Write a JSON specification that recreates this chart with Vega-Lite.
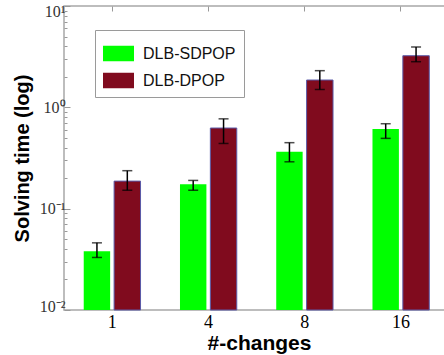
{
  "$schema": "https://vega.github.io/schema/vega-lite/v6.json",
  "autosize": {"type": "none"},
  "padding": {"left": 64, "top": 6, "right": 0, "bottom": 45},
  "width": 385,
  "height": 304,
  "background": "white",
  "config": {
    "view": {"stroke": "#a8a8a8", "strokeWidth": 1.5},
    "axis": {"domain": false, "grid": false}
  },
  "data": {
    "values": [
      {"changes": 1, "method": "DLB-SDPOP", "time": 0.038, "lo": 0.033, "hi": 0.046},
      {"changes": 1, "method": "DLB-DPOP", "time": 0.187, "lo": 0.152, "hi": 0.237},
      {"changes": 4, "method": "DLB-SDPOP", "time": 0.174, "lo": 0.152, "hi": 0.19},
      {"changes": 4, "method": "DLB-DPOP", "time": 0.625, "lo": 0.44, "hi": 0.77},
      {"changes": 8, "method": "DLB-SDPOP", "time": 0.365, "lo": 0.29, "hi": 0.448},
      {"changes": 8, "method": "DLB-DPOP", "time": 1.86, "lo": 1.5, "hi": 2.3},
      {"changes": 16, "method": "DLB-SDPOP", "time": 0.611, "lo": 0.494, "hi": 0.689},
      {"changes": 16, "method": "DLB-DPOP", "time": 3.23, "lo": 2.82, "hi": 3.94}
    ]
  },
  "resolve": {"axis": {"x": "independent"}},
  "layer": [
    {
      "mark": {"type": "bar", "strokeWidth": 1},
      "encoding": {
        "x": {
          "field": "changes", "type": "ordinal",
          "scale": {"paddingInner": 0.41, "paddingOuter": 0.205},
          "axis": {
            "orient": "bottom", "ticks": false, "labelAngle": 0,
            "labelFont": "Liberation Serif", "labelFontSize": 18, "labelColor": "#000",
            "labelBaseline": "middle", "labelPadding": 12,
            "title": "#-changes", "titleFont": "Liberation Sans", "titleFontSize": 21,
            "titleFontWeight": "bold", "titleColor": "#000",
            "titleX": 195, "titleY": 33, "titleBaseline": "middle", "titleAlign": "center"
          }
        },
        "xOffset": {
          "field": "method", "type": "nominal",
          "sort": ["DLB-SDPOP", "DLB-DPOP"],
          "scale": {"paddingInner": 0.13, "paddingOuter": 0}
        },
        "y": {
          "field": "time", "type": "quantitative", "stack": null,
          "scale": {"type": "log", "domain": [0.01, 10], "nice": false},
          "axis": {
            "values": [0.01, 0.02, 0.03, 0.04, 0.05, 0.06, 0.07, 0.08, 0.09, 0.1, 0.2, 0.3, 0.4, 0.5, 0.6, 0.7, 0.8, 0.9, 1, 2, 3, 4, 5, 6, 7, 8, 9, 10],
            "labelExpr": "abs(log(datum.value)/LN10 - round(log(datum.value)/LN10)) < 0.001 ? (datum.value >= 9 ? '10¹' : datum.value >= 0.9 ? '10⁰' : datum.value >= 0.09 ? '10⁻¹' : '10⁻²') : ''",
            "tickSize": {"condition": {"test": "abs(log(datum.value)/LN10 - round(log(datum.value)/LN10)) < 0.001", "value": -6}, "value": -3},
            "labelOffset": {"condition": [{"test": "datum.value >= 9", "value": 5}, {"test": "datum.value <= 0.011", "value": -4}], "value": 0},
            "tickColor": "#999", "tickWidth": 1,
            "labelFont": "Liberation Serif", "labelFontSize": 16, "labelColor": "#333",
            "labelPadding": 5, "labelBaseline": "middle",
            "title": "Solving time (log)", "titleFont": "Liberation Sans", "titleFontSize": 20,
            "titleFontWeight": "bold", "titleColor": "#000", "titleAngle": -90,
            "titleX": -42, "titleY": 152, "titleAlign": "center", "titleBaseline": "middle"
          }
        },
        "y2": {"datum": 0.01},
        "color": {
          "field": "method", "type": "nominal",
          "scale": {"domain": ["DLB-SDPOP", "DLB-DPOP"], "range": ["#00ff00", "#800b1e"]},
          "legend": {
            "orient": "none", "legendX": 31, "legendY": 24, "direction": "vertical",
            "title": null,
            "symbolType": "M-1,-0.5H1V0.5H-1Z", "symbolSize": 961, "symbolStrokeWidth": 0,
            "symbolOpacity": 1,
            "labelFont": "Liberation Sans", "labelFontSize": 16, "labelColor": "#111",
            "labelOffset": 9, "rowPadding": 3, "padding": 8,
            "strokeColor": "#9a9a9a", "fillColor": "white"
          }
        },
        "stroke": {
          "condition": {"test": "datum.method == 'DLB-DPOP'", "value": "#5a5aa8"},
          "value": null
        },
        "opacity": {"value": 1}
      }
    },
    {
      "mark": {"type": "rule", "color": "#000", "strokeWidth": 1.5},
      "encoding": {
        "x": {
          "field": "changes", "type": "ordinal",
          "axis": {"orient": "top", "labels": false, "title": null, "tickSize": -5, "tickColor": "#999"}
        },
        "xOffset": {"field": "method", "type": "nominal", "sort": ["DLB-SDPOP", "DLB-DPOP"]},
        "y": {"field": "lo", "type": "quantitative"},
        "y2": {"field": "hi"}
      }
    },
    {
      "mark": {"type": "tick", "color": "#000", "size": 10, "thickness": 1.5},
      "encoding": {
        "x": {"field": "changes", "type": "ordinal", "axis": null},
        "xOffset": {"field": "method", "type": "nominal", "sort": ["DLB-SDPOP", "DLB-DPOP"]},
        "y": {"field": "hi", "type": "quantitative"}
      }
    },
    {
      "mark": {"type": "tick", "color": "#000", "size": 10, "thickness": 1.5},
      "encoding": {
        "x": {"field": "changes", "type": "ordinal", "axis": null},
        "xOffset": {"field": "method", "type": "nominal", "sort": ["DLB-SDPOP", "DLB-DPOP"]},
        "y": {"field": "lo", "type": "quantitative"}
      }
    }
  ]
}
